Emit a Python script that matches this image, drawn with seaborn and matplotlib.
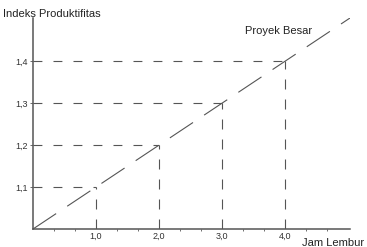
import seaborn as sns
import matplotlib.pyplot as plt
import pandas as pd
import numpy as np

# Data
jam_lembur = [1.0, 2.0, 3.0, 4.0]
indeks = [1.1, 1.2, 1.3, 1.4]
x_ticklabels = ['1,0', '2,0', '3,0', '4,0']
y_ticklabels = ['1,1', '1,2', '1,3', '1,4']
garis_x = [0.0, 1.0, 2.0, 3.0, 4.0, 5.03]
garis_y = [1.0, 1.1, 1.2, 1.3, 1.4, 1.503]

sns.set_style("ticks")
plt.rcParams['font.family'] = ['Liberation Sans', 'DejaVu Sans']

gray = '#555555'
fig = plt.figure(figsize=(3.67, 2.47), dpi=100)
ax = fig.add_axes([33 / 367, 18 / 247, 317 / 367, 211 / 247])

df = pd.DataFrame({'x': garis_x, 'y': garis_y})
sns.lineplot(data=df, x='x', y='y', ax=ax, color=gray, linewidth=0.8)
ax.lines[-1].set_dashes([25, 12])

# guide lines to each point
for xv, yv in zip(jam_lembur, indeks):
    ax.plot([0, xv], [yv, yv], color=gray, lw=0.8, dashes=[8, 10])
    ax.plot([xv, xv], [1.0, yv], color=gray, lw=0.8, dashes=[9, 9])

ax.set_xlim(0, 5.03)
ax.set_ylim(1.0, 1.503)
ax.set_xticks(jam_lembur)
ax.set_xticklabels(x_ticklabels, fontsize=6.5, color='#333333')
ax.set_yticks(indeks)
ax.set_yticklabels(y_ticklabels, fontsize=6.5, color='#333333')
ax.set_xticks(np.arange(1, 15) / 3, minor=True)
ax.tick_params(axis='x', which='both', direction='in', length=0, pad=2)
ax.tick_params(axis='x', which='minor', direction='out', length=1.5, width=0.6, color=gray)
ax.tick_params(axis='y', which='major', direction='out', length=2.5, width=0.6, color=gray, pad=1)
ax.set_xlabel('')
ax.set_ylabel('')

sns.despine(ax=ax)
for s in ['left', 'bottom']:
    ax.spines[s].set_color(gray)
    ax.spines[s].set_linewidth(1.1)

fig.text(3 / 367, 1 - 17 / 247, 'Indeks Produktifitas', fontsize=8, color='#222222')
fig.text(245 / 367, 1 - 34 / 247, 'Proyek Besar', fontsize=8, color='#222222')
fig.text(302 / 367, 1 - 246 / 247, 'Jam Lembur', fontsize=8, color='#222222')

fig.savefig('out.png', dpi=100)
